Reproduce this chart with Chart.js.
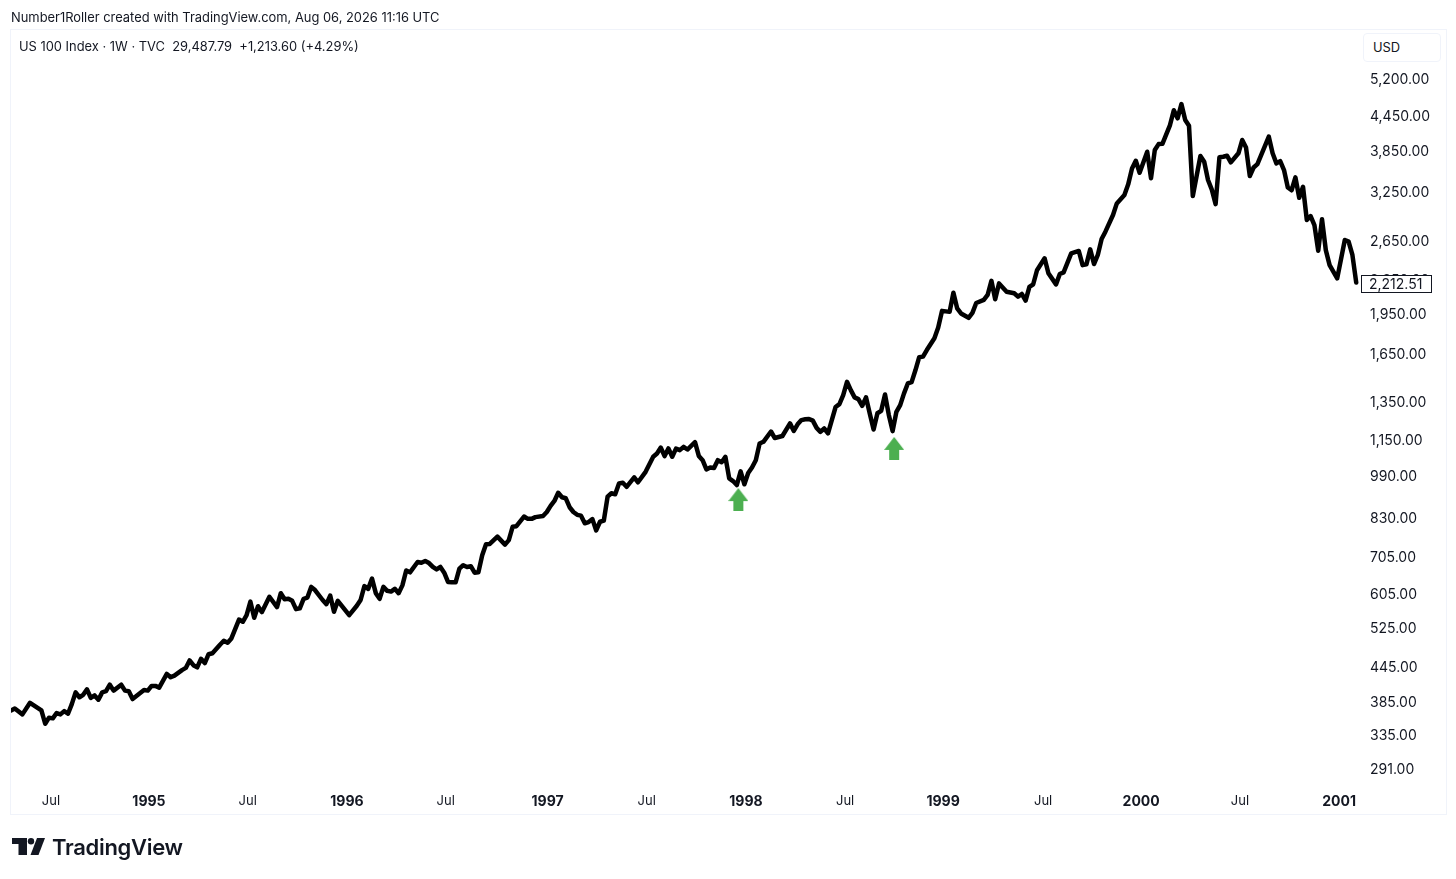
<!DOCTYPE html>
<html>
<head>
<meta charset="utf-8">
<title>US 100 Index</title>
<script src="https://cdn.jsdelivr.net/npm/chart.js@4/dist/chart.umd.min.js"></script>
<style>
    html, body { margin: 0; padding: 0; background: #fff; }
    body { width: 1456px; height: 879px; position: relative; overflow: hidden; font-family: Inter, "Liberation Sans", sans-serif; color: #131722; }
    #frame { position: absolute; left: 10px; top: 29px; width: 1435px; height: 784px; border: 1px solid #f0f3fa; }
    #bookmark { position: absolute; left: 11px; top: 10px; font-size: 12.9px; line-height: 16px; white-space: pre; }
    #legend { position: absolute; left: 19px; top: 39px; font-size: 12.9px; line-height: 16px; white-space: pre; }
    #currency { position: absolute; left: 1363px; top: 33px; width: 76px; height: 27px; border: 1px solid #f0f3fa; border-radius: 4px; font-size: 12.9px; line-height: 27px; text-indent: 9px; background: #fff; }
    #priceChart { position: absolute; left: 0; top: 0; }
    #logoMark { position: absolute; left: 0; top: 830px; }
    #logoText { position: absolute; left: 52px; top: 832px; font-size: 22px; line-height: 30px; font-weight: 600; letter-spacing: -0.3px; }
</style>
</head>
<body>
<div id="frame"></div>
<canvas id="priceChart" width="1456" height="879"></canvas>
<div id="bookmark">Number1Roller created with TradingView.com, Aug 06, 2026 11:16 UTC</div>
<div id="legend">US 100 Index · 1W · TVC  29,487.79  +1,213.60 (+4.29%)</div>
<div id="currency">USD</div>
<svg id="logoMark" width="50" height="34" viewBox="0 830 50 34">
    <path fill="#131722" d="M12 838H27V855H18.500V844H12Z"/>
    <circle fill="#131722" cx="31" cy="841.300" r="3.200"/>
    <path fill="#131722" d="M37 838H45L38.500 855H30.500Z"/>
</svg>
<div id="logoText">TradingView</div>

<script>
// weeks counted from the first bar on the chart (late Apr 1994), closes in USD
var weekIdx = [
    0, 1, 3, 5, 7, 8, 9, 10, 11, 12, 13, 14, 15, 16, 17, 18,
    19, 20, 21, 22, 23, 24, 25, 26, 27, 29, 30, 31, 32, 35, 36, 37,
    38, 39, 41, 42, 43, 45, 46, 47, 48, 49, 50, 51, 52, 53, 55, 56,
    57, 58, 60, 61, 62, 63, 64, 65, 66, 68, 70, 71, 72, 73, 74, 75,
    76, 77, 78, 79, 80, 82, 83, 84, 85, 86, 89, 91, 92, 93, 94, 95,
    96, 97, 98, 99, 100, 101, 102, 103, 104, 105, 107, 108, 109, 110, 111, 112,
    113, 114, 115, 116, 117, 118, 119, 120, 121, 122, 123, 124, 125, 126, 128, 130,
    131, 132, 133, 135, 136, 137, 138, 140, 141, 142, 143, 144, 145, 146, 147, 148,
    149, 150, 151, 152, 153, 154, 155, 156, 157, 158, 159, 160, 161, 162, 164, 165,
    167, 169, 170, 171, 172, 173, 174, 175, 176, 177, 178, 180, 181, 182, 183, 184,
    185, 186, 187, 188, 189, 190, 191, 192, 193, 194, 195, 196, 197, 198, 200, 201,
    203, 205, 206, 207, 208, 209, 210, 211, 212, 213, 214, 215, 216, 217, 218, 219,
    220, 221, 222, 223, 224, 225, 226, 227, 228, 229, 230, 231, 232, 233, 234, 235,
    236, 237, 238, 239, 240, 241, 243, 244, 245, 247, 248, 249, 250, 252, 253, 254,
    256, 257, 258, 259, 260, 262, 264, 265, 266, 267, 268, 269, 270, 272, 273, 275,
    276, 277, 279, 281, 282, 283, 284, 285, 286, 287, 288, 290, 291, 293, 294, 295,
    296, 297, 299, 300, 301, 302, 303, 305, 306, 307, 308, 309, 310, 311, 313, 314,
    315, 316, 317, 318, 319, 320, 321, 323, 324, 325, 326, 327, 328, 331, 332, 333,
    334, 335, 336, 337, 338, 339, 340, 341, 342, 343, 344, 345, 346, 347, 349, 351,
    352, 353, 354
];
var closes = [
    370, 373, 364, 382, 374, 370, 350, 359, 358, 366, 364, 369, 365, 380, 399, 391,
    395, 404, 390, 394, 387, 399, 401, 412, 402, 412, 402, 401, 388, 403, 402, 410,
    410, 407, 431, 425, 428, 438, 442, 456, 447, 443, 459, 451, 468, 470, 487, 495,
    491, 500, 541, 536, 551, 583, 545, 572, 558, 595, 570, 604, 589, 590, 585, 565,
    567, 590, 593, 620, 612, 587, 577, 598, 559, 585, 551, 573, 587, 622, 615, 642,
    604, 590, 620, 610, 608, 615, 604, 624, 664, 659, 688, 686, 691, 685, 674, 667,
    674, 658, 633, 632, 632, 669, 679, 674, 676, 658, 659, 708, 741, 742, 765, 740,
    754, 797, 799, 832, 824, 824, 830, 834, 848, 870, 888, 919, 902, 898, 865, 848,
    838, 835, 809, 813, 823, 785, 814, 818, 904, 917, 913, 955, 958, 942, 980, 960,
    1003, 1068, 1083, 1110, 1071, 1106, 1068, 1105, 1098, 1113, 1101, 1135, 1072, 1053, 1013, 1021,
    1019, 1053, 1044, 1068, 976, 965, 949, 1005, 952, 998, 1021, 1053, 1129, 1137, 1187, 1155,
    1165, 1228, 1190, 1223, 1245, 1249, 1251, 1242, 1205, 1185, 1202, 1178, 1245, 1315, 1331, 1382,
    1461, 1411, 1369, 1359, 1321, 1369, 1278, 1197, 1281, 1294, 1386, 1272, 1189, 1289, 1325, 1392,
    1451, 1459, 1533, 1619, 1623, 1668, 1752, 1833, 1965, 1957, 2120, 1985, 1944, 1909, 1949, 2031,
    2057, 2100, 2228, 2063, 2204, 2129, 2115, 2085, 2109, 2051, 2172, 2196, 2329, 2448, 2299, 2195,
    2292, 2308, 2499, 2524, 2379, 2387, 2541, 2390, 2482, 2654, 2736, 2933, 3079, 3189, 3334, 3562,
    3680, 3500, 3821, 3420, 3848, 3945, 3950, 4272, 4545, 4394, 4663, 4362, 4258, 3175, 3753, 3664,
    3395, 3262, 3070, 3733, 3742, 3758, 3655, 3796, 4013, 3890, 3453, 3577, 3629, 4069, 3796, 3640,
    3675, 3540, 3291, 3253, 3434, 3153, 3300, 2873, 2921, 2813, 2526, 2881, 2533, 2379, 2251, 2643,
    2624, 2482, 2212.51
];

// green up arrows under the two lows
var arrowWeeks = [191.4, 232.4];
var arrowPrices = [893, 1106];

var priceTicks = [5200, 4450, 3850, 3250, 2650, 2250, 1950, 1650, 1350, 1150, 990, 830, 705, 605, 525, 445, 385, 335, 291];
var timeTickWeeks = [10.5, 36.3, 62.3, 88.4, 114.4, 141.2, 167.3, 193.4, 219.5, 245.3, 271.6, 297.4, 323.4, 349.5];
var timeTickLabels = ["Jul", "1995", "Jul", "1996", "Jul", "1997", "Jul", "1998", "Jul", "1999", "Jul", "2000", "Jul", "2001"];
var lastPrice = 2212.51;

function makeArrow() {
    var c = document.createElement("canvas");
    c.width = 20;
    c.height = 23;
    var g = c.getContext("2d");
    g.fillStyle = "#4caf50";
    g.beginPath();
    g.moveTo(10, 0);
    g.lineTo(20, 13);
    g.lineTo(15, 13);
    g.lineTo(15, 23);
    g.lineTo(5, 23);
    g.lineTo(5, 13);
    g.lineTo(0, 13);
    g.closePath();
    g.fill();
    return c;
}

// boxed last price on the price scale
var lastPriceTag = {
    id: "lastPriceTag",
    afterDraw: function (chart) {
        var y = Math.round(chart.scales.y.getPixelForValue(lastPrice)) + 2;
        var ctx = chart.ctx;
        ctx.save();
        ctx.fillStyle = "#fff";
        ctx.strokeStyle = "#131722";
        ctx.lineWidth = 1;
        ctx.fillRect(1361.5, y - 8.5, 70, 17);
        ctx.strokeRect(1361.5, y - 8.5, 70, 17);
        ctx.fillStyle = "#131722";
        ctx.font = "14px Inter";
        ctx.textBaseline = "middle";
        ctx.textAlign = "left";
        ctx.fillText("2,212.51", 1369, y + 0.5);
        ctx.restore();
    },
};

new Chart(document.getElementById("priceChart"), {
    type: "line",
    data: {
        datasets: [
            {
                label: "Close",
                data: weekIdx.map(function (w, i) { return { x: w, y: closes[i] }; }),
                borderColor: "#000",
                borderWidth: 4.5,
                borderJoinStyle: "round",
                borderCapStyle: "round",
                pointRadius: 0,
                tension: 0,
            },
            {
                label: "Signals",
                data: arrowWeeks.map(function (w, i) { return { x: w, y: arrowPrices[i] }; }),
                showLine: false,
                pointStyle: makeArrow(),
                pointRadius: 10,
            },
        ],
    },
    options: {
        responsive: false,
        animation: false,
        layout: { padding: { left: 11, right: 10, top: 30, bottom: 65 } },
        plugins: {
            legend: { display: false },
            tooltip: { enabled: false },
        },
        scales: {
            x: {
                type: "linear",
                min: 0,
                max: 355.26,
                grid: { display: false, drawTicks: false },
                border: { display: false },
                afterBuildTicks: function (axis) {
                    axis.ticks = timeTickWeeks.map(function (w) { return { value: w }; });
                },
                afterFit: function (axis) { axis.height = 30; },
                ticks: {
                    autoSkip: false,
                    maxRotation: 0,
                    padding: 9,
                    color: "#131722",
                    font: function (ctx) {
                        var isYear = ctx.index % 2 === 1;
                        return { family: "Inter", size: isYear ? 14 : 13, weight: isYear ? "bold" : "normal" };
                    },
                    callback: function (value, index) { return timeTickLabels[index]; },
                },
            },
            y: {
                type: "logarithmic",
                position: "right",
                min: 272.1,
                max: 6355,
                grid: { display: false, drawTicks: false },
                border: { display: false },
                afterBuildTicks: function (axis) {
                    axis.ticks = priceTicks.map(function (p) { return { value: p }; });
                },
                afterFit: function (axis) { axis.width = 85; },
                ticks: {
                    autoSkip: false,
                    padding: 9,
                    labelOffset: 2,
                    color: "#131722",
                    font: { family: "Inter", size: 14 },
                    callback: function (value) {
                        return value.toLocaleString("en-US", { minimumFractionDigits: 2, maximumFractionDigits: 2 });
                    },
                },
            },
        },
    },
    plugins: [lastPriceTag],
});
</script>
</body>
</html>
